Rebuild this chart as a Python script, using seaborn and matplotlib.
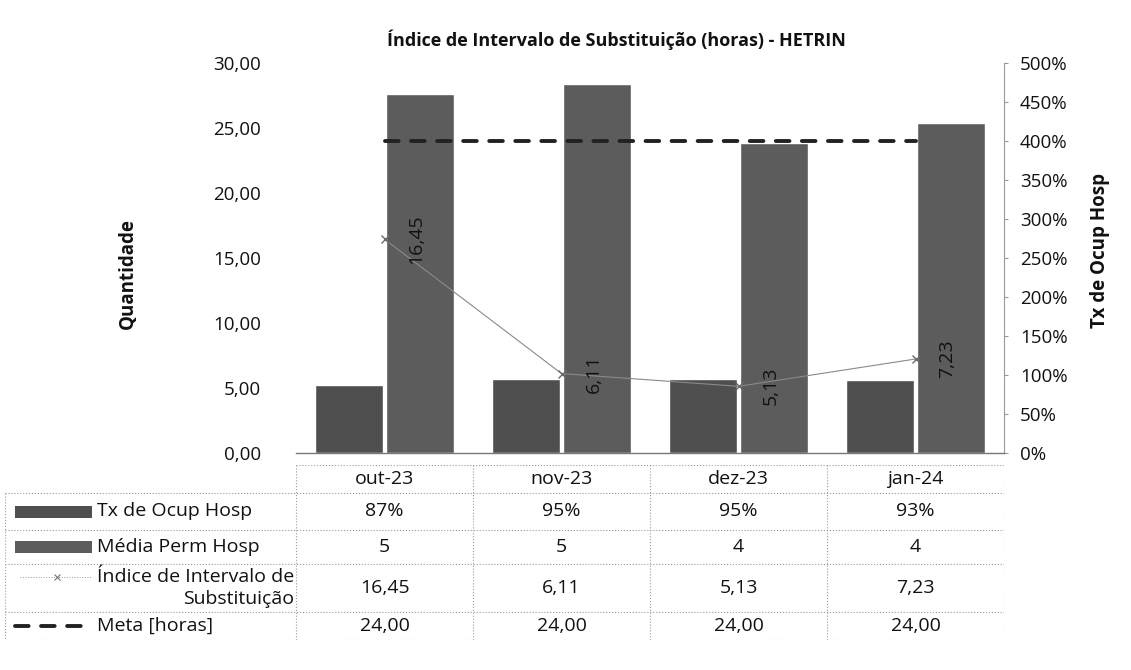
import numpy as np
import pandas as pd
import matplotlib
matplotlib.use('Agg')
import matplotlib.pyplot as plt
import seaborn as sns
from matplotlib.patches import Rectangle
from matplotlib.ticker import FuncFormatter, MultipleLocator

# dados
meses = ['out-23', 'nov-23', 'dez-23', 'jan-24']
tx_ocup = [0.87, 0.95, 0.95, 0.93]        # eixo direito
media_perm = [4.60, 4.73, 3.98, 4.23]     # eixo direito (plotado como %)
indice = [16.45, 6.11, 5.13, 7.23]        # eixo esquerdo
meta = [24.0, 24.0, 24.0, 24.0]           # eixo esquerdo
series_barras = ['Tx de Ocup Hosp', 'Média Perm Hosp']

cor_tx = '#4f4f4f'
cor_media = '#5c5c5c'
cor_grade = '#9a9a9a'
fs = 14

sns.set_theme(style='white')
plt.rcParams['font.family'] = ['Open Sans', 'DejaVu Sans']
plt.rcParams['text.color'] = '#111111'

W, H = 1131, 670
fig = plt.figure(figsize=(W / 100, H / 100), dpi=100)

def virgula(v, casas=2):
    return f'{v:.{casas}f}'.replace('.', ',')

# area do grafico (em pixels da figura)
x0, x1, y_top, y_base = 296, 1004, 63, 453
ax = fig.add_axes([x0 / W, 1 - y_base / H, (x1 - x0) / W, (y_base - y_top) / H])
ax2 = ax.twinx()

df = pd.DataFrame({
    'mes': meses * 2,
    'serie': [series_barras[0]] * 4 + [series_barras[1]] * 4,
    'valor': tx_ocup + media_perm,
})
sns.barplot(data=df, x='mes', y='valor', hue='serie', palette=[cor_tx, cor_media],
            width=0.8, gap=0.04, saturation=1, legend=False, ax=ax2)

pos = np.arange(len(meses))
sns.lineplot(x=pos, y=indice, ax=ax, color='#8a8a8a', lw=0.8, marker='x',
             markersize=6, markeredgecolor='#6a6a6a', markeredgewidth=1)
ax.plot(pos, meta, color='#222222', lw=2.8, ls=(0, (3.5, 3.2)), dash_capstyle='round')

for i, v in enumerate(indice):
    ax.annotate(virgula(v), (i, v), xytext=(23, 0), textcoords='offset points',
                rotation=90, ha='center', va='center', fontsize=fs, color='#111111')

ax.set_zorder(ax2.get_zorder() + 1)
ax.patch.set_visible(False)

ax.set_xlim(-0.5, len(meses) - 0.5)
ax.set_ylim(0, 30)
ax.yaxis.set_major_locator(MultipleLocator(5))
ax.yaxis.set_major_formatter(FuncFormatter(lambda v, p: virgula(v)))
ax2.set_ylim(0, 5)
ax2.yaxis.set_major_locator(MultipleLocator(0.5))
ax2.yaxis.set_major_formatter(FuncFormatter(lambda v, p: f'{v * 100:.0f}%'))

for a in (ax, ax2):
    a.set_xlabel('')
    a.set_ylabel('')
    a.tick_params(axis='x', bottom=False, labelbottom=False)
    for s in a.spines.values():
        s.set_visible(False)
ax.spines['bottom'].set_visible(True)
ax.spines['bottom'].set_color('#777777')
ax.spines['bottom'].set_linewidth(1)
ax2.spines['right'].set_visible(True)
ax2.spines['right'].set_color('#999999')
ax2.spines['right'].set_linewidth(0.8)
ax.tick_params(axis='y', left=False, labelsize=13.5, pad=19, labelcolor='#111111')
ax2.tick_params(axis='y', right=True, length=3, width=0.8, color='#999999',
                labelsize=13.5, pad=8.5, labelcolor='#111111')

fig.text(616 / W, 1 - 40 / H, 'Índice de Intervalo de Substituição (horas) - HETRIN',
         ha='center', va='center', fontsize=13, fontweight='bold')
fig.text(128 / W, 1 - 274 / H, 'Quantidade', rotation=90, ha='center', va='center',
         fontsize=13.5, fontweight='bold')
fig.text(1100 / W, 1 - 250 / H, 'Tx de Ocup Hosp', rotation=90, ha='center', va='center',
         fontsize=13.5, fontweight='bold')

# tabela de dados
t_left, t_top, t_bot = 5, 465, 640
linhas = [465, 493, 530, 564, 612, 640]
tax = fig.add_axes([t_left / W, 1 - t_bot / H, (x1 - t_left) / W, (t_bot - t_top) / H])
cat_px = (x1 - x0) / len(meses)
lab_w = (x0 - t_left) / cat_px
xl = -0.5 - lab_w
tax.set_xlim(xl, len(meses) - 0.5)
tax.set_ylim(t_bot, t_top)
tax.axis('off')

grade = dict(color=cor_grade, lw=0.8, ls=':')
tax.plot([-0.5, len(meses) - 0.5], [linhas[0]] * 2, **grade)
for yl in linhas[1:]:
    tax.plot([xl, len(meses) - 0.5], [yl] * 2, **grade)
tax.plot([xl, xl], [linhas[1], linhas[-1]], **grade)
for xv in np.arange(len(meses) + 1) - 0.5:
    tax.plot([xv, xv], [linhas[0], linhas[-1]], **grade)

centros = [(a + b) / 2 for a, b in zip(linhas[:-1], linhas[1:])]
linhas_txt = [
    [f'{v:.0%}' for v in tx_ocup],
    [f'{v:.0f}' for v in media_perm],
    [virgula(v) for v in indice],
    [virgula(v) for v in meta],
]
for i, m in enumerate(meses):
    tax.text(i, centros[0], m, ha='center', va='center', fontsize=fs)
    for r, vals in enumerate(linhas_txt):
        tax.text(i, centros[r + 1], vals[i], ha='center', va='center', fontsize=fs)

# legenda na coluna de rotulos
sw0, sw1 = xl + 10 / cat_px, xl + 87 / cat_px
txt_x = xl + 92 / cat_px
for r, cor in enumerate([cor_tx, cor_media]):
    yc = centros[r + 1]
    tax.add_patch(Rectangle((sw0, yc - 6), sw1 - sw0, 12, color=cor, lw=0))
yc = centros[3]
tax.plot([sw0 + 0.03, sw1], [yc - 11, yc - 11], color='#999999', lw=0.7, ls=':')
tax.plot([(sw0 + sw1) / 2 + 0.02], [yc - 11], marker='x', color='#777777', markersize=5, mew=0.8)
yc = centros[4]
tax.plot([sw0, sw1], [yc, yc], color='#222222', lw=2.8, ls=(0, (3.5, 3.2)), dash_capstyle='round')

rotulos = ['Tx de Ocup Hosp', 'Média Perm Hosp', 'Índice de Intervalo de\nSubstituição', 'Meta [horas]']
for r, rot in enumerate(rotulos):
    tax.text(txt_x, centros[r + 1], rot, ha='left', va='center', fontsize=fs,
             multialignment='right', linespacing=1.3)

fig.savefig('out.png', dpi=100)
